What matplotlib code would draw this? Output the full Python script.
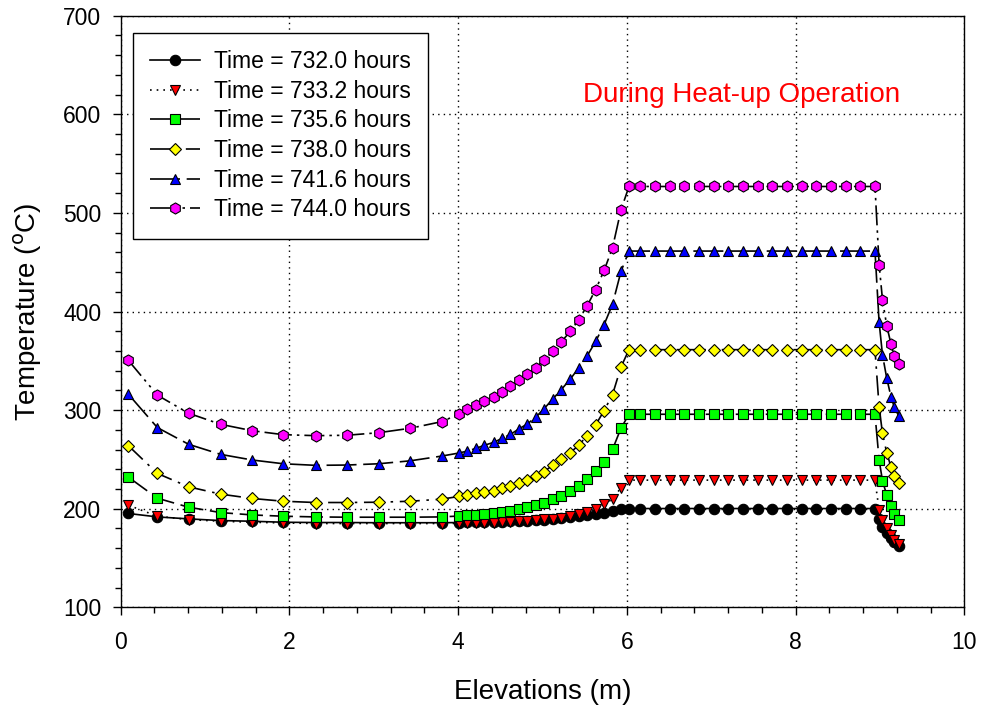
import matplotlib
matplotlib.use("Agg")
import matplotlib.pyplot as plt
from matplotlib.ticker import MultipleLocator

plt.rcParams['font.family'] = ['Liberation Sans', 'DejaVu Sans']

# ---- data ----
elev_left = [0.09, 0.434, 0.806, 1.185, 1.56, 1.927, 2.31, 2.68, 3.058, 3.433, 3.805]
elev_mid = [4.01, 4.11, 4.21, 4.31, 4.42, 4.52, 4.62, 4.72, 4.82, 4.92,
            5.02, 5.12, 5.22, 5.33, 5.43, 5.53, 5.63, 5.73, 5.83, 5.93]
elev_flat = [6.025, 6.16, 6.334, 6.508, 6.68, 6.855, 7.03, 7.20, 7.377, 7.55,
             7.724, 7.898, 8.07, 8.246, 8.42, 8.594, 8.767, 8.941]
elev_drop = [8.99, 9.03, 9.08, 9.13, 9.17, 9.22]
elevation = elev_left + elev_mid + elev_flat + elev_drop

t_732_0 = ([195.2, 191.7, 189.7, 188.0, 187.3, 186.3, 186.0, 186.0, 185.8, 185.8, 185.8]
           + [186.0, 186.2, 186.4, 186.6, 186.8, 187.0, 187.3, 187.6, 188.0, 188.5,
              189.0, 189.6, 190.3, 191.2, 192.3, 193.3, 194.6, 196.0, 197.4, 199.3]
           + [200.2] * 18
           + [190.0, 181.0, 175.0, 170.0, 166.0, 162.0])
t_733_2 = ([203.6, 192.4, 189.0, 187.3, 186.3, 185.6, 185.0, 185.0, 185.0, 185.0, 185.0]
           + [185.2, 185.2, 185.3, 185.4, 185.8, 186.2, 186.5, 187.2, 187.8, 188.5,
              189.2, 189.8, 190.9, 192.6, 194.3, 197.0, 199.7, 204.4, 209.8, 221.3]
           + [229.0] * 18
           + [198.7, 188.5, 180.0, 173.4, 168.0, 164.0])
t_735_6 = ([232.1, 210.7, 201.5, 196.1, 193.7, 192.4, 191.7, 191.4, 191.4, 191.4, 191.7]
           + [192.6, 193.3, 194.0, 194.7, 195.5, 196.6, 198.0, 199.6, 201.4, 203.6,
              206.2, 209.5, 213.3, 217.8, 223.5, 230.5, 238.5, 247.6, 260.2, 281.6]
           + [295.8] * 18
           + [249.4, 228.4, 213.9, 202.7, 195.0, 189.0])
t_738_0 = ([264.0, 235.8, 222.2, 214.8, 210.4, 207.6, 206.3, 206.3, 206.6, 207.6, 209.7]
           + [212.5, 213.9, 215.6, 217.2, 218.3, 220.7, 223.3, 225.8, 229.1, 233.2,
              237.7, 244.0, 250.2, 256.8, 264.6, 274.1, 285.0, 299.5, 315.8, 343.7]
           + [361.3] * 18
           + [303.0, 276.5, 256.8, 242.6, 233.0, 225.6])
t_741_6 = ([316.2, 282.3, 265.3, 255.1, 249.4, 245.6, 244.0, 244.3, 245.6, 248.6, 253.4]
           + [256.5, 258.5, 261.2, 264.3, 267.3, 271.3, 275.4, 280.9, 286.0, 292.8,
              301.6, 311.1, 320.6, 331.5, 343.0, 355.1, 369.7, 386.7, 407.4, 440.6]
           + [461.3] * 18
           + [389.0, 356.0, 332.5, 313.8, 303.0, 294.5])
t_744_0 = ([350.5, 315.2, 296.8, 285.6, 279.1, 275.1, 274.1, 274.5, 277.1, 281.6, 288.3]
           + [296.0, 300.9, 305.0, 309.5, 313.8, 318.5, 324.0, 330.1, 336.6, 343.0,
              350.8, 359.5, 369.0, 379.9, 391.8, 406.0, 422.3, 441.6, 464.7, 503.0]
           + [526.8] * 18
           + [447.5, 412.0, 385.6, 367.4, 354.4, 346.7])

labels = ["Time = 732.0 hours", "Time = 733.2 hours", "Time = 735.6 hours",
          "Time = 738.0 hours", "Time = 741.6 hours", "Time = 744.0 hours"]
series = [t_732_0, t_733_2, t_735_6, t_738_0, t_741_6, t_744_0]
markers = ['o', 'v', 's', 'D', '^', 'h']
colors = ['black', '#FF0000', '#00FF00', '#FFFF00', '#0000FF', '#FF00FF']
msizes = [7.5, 7.5, 7, 6.5, 7.5, 8]
styles = ['-', (0, (1, 3)), (0, (14, 4)), (0, (12, 4, 1.5, 4)), (0, (18, 4)),
          (0, (12, 3, 1.5, 3, 1.5, 3))]

fig = plt.figure(figsize=(9.83, 7.10), dpi=100)
ax = fig.add_axes([0.1228, 0.1446, 0.8582, 0.8333])

for y, lab, m, c, ms, ls in zip(series, labels, markers, colors, msizes, styles):
    ax.plot(elevation, y, color='black', linestyle=ls, linewidth=1.2,
            marker=m, markerfacecolor=c, markeredgecolor='black',
            markeredgewidth=0.8, markersize=ms, label=lab)

ax.set_xlim(0, 10)
ax.set_ylim(100, 700)
ax.xaxis.set_major_locator(MultipleLocator(2))
ax.xaxis.set_minor_locator(MultipleLocator(0.4))
ax.yaxis.set_major_locator(MultipleLocator(100))
ax.yaxis.set_minor_locator(MultipleLocator(20))
ax.tick_params(which='both', direction='out', top=False, right=False,
               labelsize=16.5, width=1)
ax.tick_params(axis='x', which='major', length=6, pad=11)
ax.tick_params(axis='y', which='major', length=6, pad=8)
ax.tick_params(which='minor', length=4)
for s in ax.spines.values():
    s.set_linewidth(1.0)

ax.grid(True, which='major', color='black', linestyle=(0, (1, 3)), linewidth=1.0)
ax.set_axisbelow(True)

ax.set_xlabel("Elevations (m)", fontsize=20, labelpad=18)
ax.set_ylabel("Temperature ($^{\\mathrm{o}}$C)", fontsize=20, labelpad=14)

ax.text(5.48, 620, "During Heat-up Operation", color='#FF0000', fontsize=20,
        ha='left', va='center')

leg = ax.legend(loc='upper left', bbox_to_anchor=(0.0142, 0.9708), borderaxespad=0,
                fontsize=16.5, frameon=True, fancybox=False, numpoints=1,
                handlelength=2.2, handletextpad=0.6, labelspacing=0.29,
                borderpad=0.75)
leg.get_frame().set_edgecolor('black')
leg.get_frame().set_linewidth(1.0)
leg.get_frame().set_alpha(1)

fig.savefig("out.png", dpi=100)
